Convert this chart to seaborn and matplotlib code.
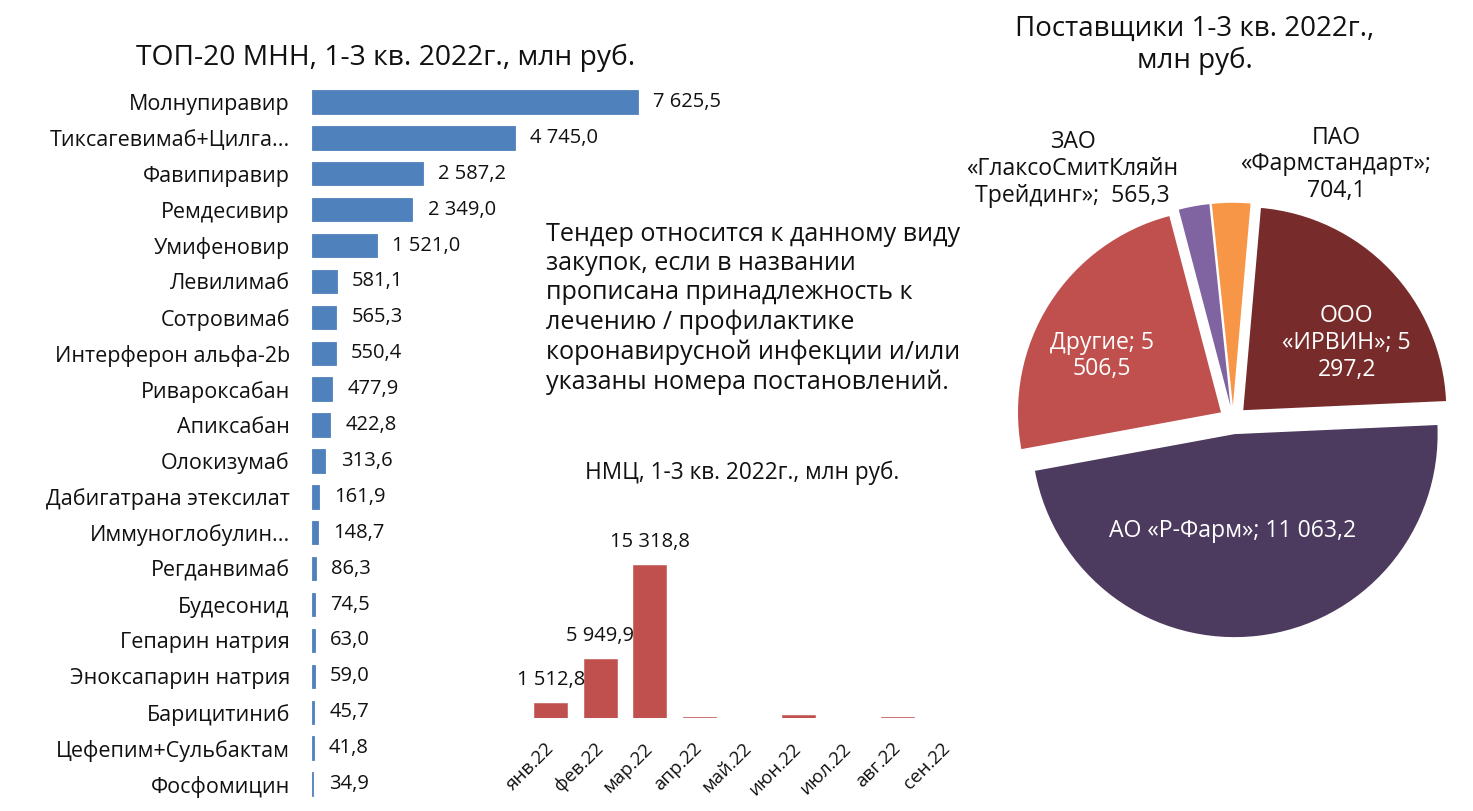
import matplotlib
matplotlib.use("Agg")
import matplotlib.pyplot as plt
import seaborn as sns
import pandas as pd

# ---------------- data ----------------
mnn_names = ["Молнупиравир", "Тиксагевимаб+Цилга...", "Фавипиравир", "Ремдесивир",
             "Умифеновир", "Левилимаб", "Сотровимаб", "Интерферон альфа-2b",
             "Ривароксабан", "Апиксабан", "Олокизумаб", "Дабигатрана этексилат",
             "Иммуноглобулин...", "Регданвимаб", "Будесонид", "Гепарин натрия",
             "Эноксапарин натрия", "Барицитиниб", "Цефепим+Сульбактам", "Фосфомицин"]
mnn_values = [7625.5, 4745.0, 2587.2, 2349.0, 1521.0, 581.1, 565.3, 550.4,
              477.9, 422.8, 313.6, 161.9, 148.7, 86.3, 74.5, 63.0, 59.0, 45.7, 41.8, 34.9]

months = ["янв.22", "фев.22", "мар.22", "апр.22", "май.22", "июн.22", "июл.22", "авг.22", "сен.22"]
month_values = [1512.8, 5949.9, 15318.8, 100.0, 10.0, 300.0, 10.0, 80.0, 10.0]
month_labels = ["1 512,8", "5 949,9", "15 318,8", "", "", "", "", "", ""]

suppliers = ["ООО\n«ИРВИН»; 5\n297,2", "АО «Р-Фарм»; 11 063,2", "Другие; 5\n506,5",
             "ЗАО\n«ГлаксоСмитКляйн\nТрейдинг»;  565,3", "ПАО\n«Фармстандарт»;\n704,1"]
supplier_values = [5297.2, 11063.2, 5506.5, 565.3, 704.1]
supplier_colors = ["#772C2B", "#4D3A5F", "#C0504D", "#8064A2", "#F79646"]
supplier_text_colors = ["white", "white", "white", "#111111", "#111111"]
supplier_label_pos = [(0.56, 0.38), (0.0, -0.545), (-0.645, 0.315), (-0.79, 1.236), (0.507, 1.26)]

note = ("Тендер относится к данному виду\nзакупок, если в названии\nпрописана принадлежность к\n"
        "лечению / профилактике\nкоронавирусной инфекции и/или\nуказаны номера постановлений.")


def fmt(v):
    return f"{v:,.1f}".replace(",", " ").replace(".", ",")


# ---------------- style ----------------
sns.set_theme(style="white")
plt.rcParams["font.family"] = ["Open Sans", "DejaVu Sans"]
TXT = "#111111"

W, H = 1473, 811
fig = plt.figure(figsize=(W / 100, H / 100), dpi=100)

# ---------------- left bar chart ----------------
ax1 = fig.add_axes([312 / W, 1 - 802 / H, 342 / W, (802 - 84) / H])
df1 = pd.DataFrame({"name": mnn_names, "value": mnn_values})
sns.barplot(data=df1, y="name", x="value", color="#4F81BD", saturation=1,
            width=0.65, ax=ax1, edgecolor="#4F81BD", linewidth=0.6)
ax1.set_xlim(0, 8000)
ax1.bar_label(ax1.containers[0], labels=[fmt(v) for v in mnn_values],
              padding=11, fontsize=14.5, color=TXT)
ax1.set_xlabel("")
ax1.set_ylabel("")
ax1.set_xticks([])
ax1.tick_params(axis="y", length=0, pad=16, labelsize=15.5, labelcolor=TXT)
for s in ax1.spines.values():
    s.set_visible(False)
fig.text(386 / W, 1 - 58 / H, "ТОП-20 МНН, 1-3 кв. 2022г., млн руб.",
         ha="center", va="center", fontsize=20.3, color=TXT)

# ---------------- note ----------------
fig.text(546 / W, 1 - 308.5 / H, note, ha="left", va="center", fontsize=18.1,
         linespacing=1.23, color=TXT)

# ---------------- monthly chart ----------------
ax2 = fig.add_axes([526 / W, 1 - 718 / H, 446 / W, 198 / H])
df2 = pd.DataFrame({"month": months, "value": month_values})
sns.barplot(data=df2, x="month", y="value", color="#C0504D", saturation=1,
            width=0.67, ax=ax2, edgecolor="#C0504D", linewidth=0.4)
ax2.set_ylim(0, 19800)
ax2.bar_label(ax2.containers[0], labels=month_labels, padding=9, fontsize=14.5, color=TXT)
ax2.set_xlabel("")
ax2.set_ylabel("")
ax2.set_yticks([])
ax2.tick_params(axis="x", length=0, pad=20, labelsize=13.5, labelcolor=TXT)
for lbl in ax2.get_xticklabels():
    lbl.set_rotation(45)
    lbl.set_ha("right")
    lbl.set_va("center")
    lbl.set_rotation_mode("anchor")
for s in ax2.spines.values():
    s.set_visible(False)
fig.text(742 / W, 1 - 473 / H, "НМЦ, 1-3 кв. 2022г., млн руб.",
         ha="center", va="center", fontsize=16.3, color=TXT)

# ---------------- pie ----------------
ax3 = fig.add_axes([989.4 / W, 1 - 663.6 / H, 487.2 / W, 487.2 / H])
ax3.pie(supplier_values, colors=supplier_colors, startangle=85, counterclock=False,
        explode=[0.07] * len(supplier_values), wedgeprops=dict(linewidth=0))
ax3.set_xlim(-1.2, 1.2)
ax3.set_ylim(-1.2, 1.2)
for lab, (lx, ly), c in zip(suppliers, supplier_label_pos, supplier_text_colors):
    ax3.text(lx, ly, lab, ha="center", va="center", fontsize=16.6, color=c,
             linespacing=1.15)
fig.text(1195 / W, 1 - 45 / H, "Поставщики 1-3 кв. 2022г.,\nмлн руб.",
         ha="center", va="center", fontsize=20, linespacing=1.2, color=TXT)

fig.savefig("out.png", dpi=100)
